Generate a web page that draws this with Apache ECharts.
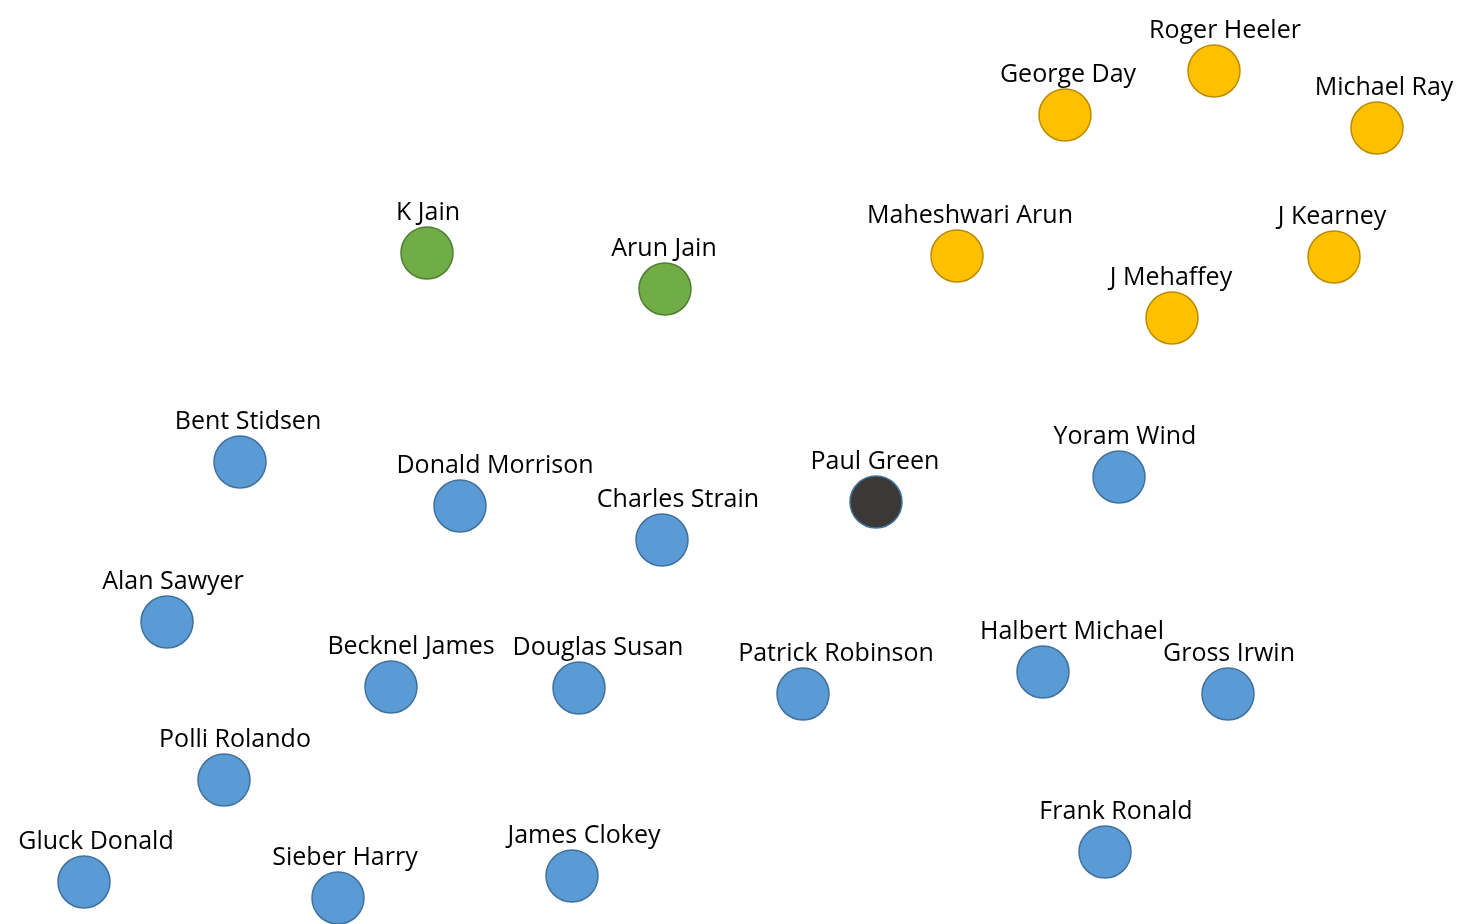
<!DOCTYPE html>
<html><head><meta charset="utf-8">
<script src="https://cdn.jsdelivr.net/npm/echarts@6/dist/echarts.min.js"></script>
<style>html,body{margin:0;padding:0;background:#fff}#c{width:1474px;height:924px}</style>
</head><body><div id="c"></div>
<script>
// Data (x to the right, y upward; arbitrary units)
const names = ["Roger Heeler","George Day","Michael Ray","Maheshwari Arun","J Kearney","J Mehaffey",
  "K Jain","Arun Jain",
  "Bent Stidsen","Donald Morrison","Charles Strain","Paul Green","Yoram Wind","Alan Sawyer",
  "Becknel James","Douglas Susan","Patrick Robinson","Halbert Michael","Gross Irwin",
  "Polli Rolando","Gluck Donald","Sieber Harry","James Clokey","Frank Ronald"];
const xValues = [1214,1065,1377,957,1334,1172, 427,665, 240,460,662,876,1119,167, 391,579,803,1043,1228, 224,84,338,572,1105];
const yValues = [853,809,796,668,667,606, 671,635, 462,418,384,422,447,302, 237,236,230,252,230, 144,42,26,48,72];
const groups = ["A","A","A","A","A","A", "B","B", "C","C","C","D","C","C", "C","C","C","C","C", "C","C","C","C","C"];
// label horizontal nudges (style only)
const labelDx = [11,3,7,13,-2,-1, 1,-1, 8,35,16,-1,6,6, 20,19,33,29,1, 11,12,7,12,11];

const groupStyle = {
  A: {color:"#FFC000", borderColor:"#BC8C00"},
  B: {color:"#70AD47", borderColor:"#507E32"},
  C: {color:"#5B9BD5", borderColor:"#41719C"},
  D: {color:"#3B3838", borderColor:"#41719C"}
};

const data = names.map((n,i)=>({
  name:n, value:[xValues[i], yValues[i]],
  itemStyle:Object.assign({borderWidth:1.5, opacity:1}, groupStyle[groups[i]]),
  label:{offset:[labelDx[i],0]}
}));

const chart = echarts.init(document.getElementById('c'));
chart.setOption({
  animation:false,
  grid:{left:0,right:0,top:0,bottom:0},
  xAxis:{type:'value',min:0,max:1474,show:false},
  yAxis:{type:'value',min:0,max:924,show:false},
  series:[{
    type:'scatter', symbol:'circle', symbolSize:52, data:data,
    itemStyle:{opacity:1},
    emphasis:{disabled:true},
    label:{show:true, position:'top', distance:1, formatter:'{b}',
      color:'#000', fontSize:25, fontFamily:'Open Sans'}
  }]
});
</script></body></html>
